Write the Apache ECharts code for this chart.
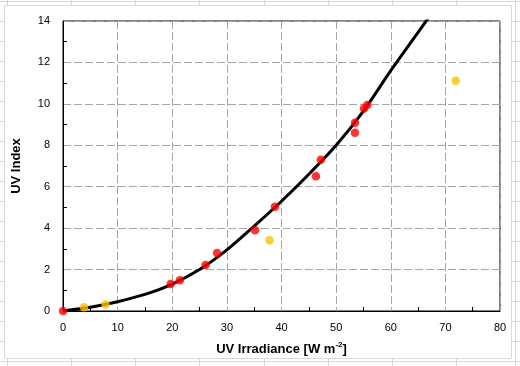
<!DOCTYPE html>
<html>
<head>
<meta charset="utf-8">
<script src="https://cdn.jsdelivr.net/npm/echarts@6/dist/echarts.min.js"></script>
<style>
html,body{margin:0;padding:0;background:#fff;}
#c{width:520px;height:366px;}
</style>
</head>
<body>
<div id="c"></div>
<script>
// Model curve (UV Index vs UV irradiance)
const curveX = [0, 5, 10, 15, 20, 25, 30, 35, 40, 45, 50, 55, 60, 65, 70];
const curveY = [0, 0.18, 0.45, 0.8, 1.3, 2.0, 2.95, 4.1, 5.3, 6.6, 8.0, 9.65, 11.6, 13.45, 15.3];

// Measured points (red)
const redX = [0, 19.7, 21.4, 26.1, 28.2, 35.15, 38.8, 46.3, 47.2, 53.45, 53.45, 55.1, 55.7];
const redY = [0, 1.30, 1.48, 2.22, 2.80, 3.90, 5.03, 6.51, 7.30, 8.60, 9.09, 9.78, 9.94];

// Other points (orange)
const orangeX = [3.84, 7.8, 37.8, 71.9];
const orangeY = [0.18, 0.31, 3.42, 11.12];

// Axis ranges / tick spacing
const xMin = 0, xMax = 80, xStep = 10;
const yMin = 0, yMax = 14, yStep = 2;

const zip = (a, b) => a.map((v, i) => [v, b[i]]);

// Decorative spreadsheet background lines
const sheetCols = [7, 71, 135, 199, 264, 328, 392, 456];
const sheetRows = [];
for (let k = 0; k <= 18; k++) sheetRows.push(1.5 + 20 * k);

const graphics = [];
sheetCols.forEach(x => graphics.push({
  type: 'line', z: -20, silent: true,
  shape: {x1: x + 0.5, y1: 0, x2: x + 0.5, y2: 366},
  style: {stroke: '#d6d6d6', lineWidth: 1}
}));
sheetRows.forEach(y => graphics.push({
  type: 'line', z: -20, silent: true,
  shape: {x1: 0, y1: y, x2: 520, y2: y},
  style: {stroke: '#d6d6d6', lineWidth: 1}
}));
graphics.push({
  type: 'line', z: -19, silent: true,
  shape: {x1: 515.5, y1: 0, x2: 515.5, y2: 366},
  style: {stroke: '#d6d6d6', lineWidth: 1}
});
graphics.push({
  type: 'rect', z: -10, silent: true,
  shape: {x: 4.5, y: 5.5, width: 507, height: 353},
  style: {fill: '#ffffff', stroke: '#d9d9d9', lineWidth: 1}
});

const font = 'Liberation Sans, Arial, sans-serif';
const gridLine = {show: true, lineStyle: {color: '#a6a6a6', width: 1, type: [8, 3]}};

const chart = echarts.init(document.getElementById('c'), null, {renderer: 'canvas'});
chart.setOption({
  animation: false,
  backgroundColor: '#ffffff',
  graphic: graphics,
  grid: {left: 63, right: 20, top: 21, bottom: 55, show: true, borderColor: '#000', borderWidth: 1, backgroundColor: 'transparent'},
  xAxis: {
    type: 'value', min: xMin, max: xMax, interval: xStep,
    axisLine: {show: true, lineStyle: {color: '#000', width: 1}},
    axisTick: {show: false, inside: true},
    minorTick: {show: true, splitNumber: 2, length: 4, lineStyle: {color: '#000', width: 1}},
    splitLine: gridLine,
    axisLabel: {color: '#000', fontSize: 11, fontFamily: font, margin: 11},
    name: '{a|UV Irradiance [W m}{s|-2}{a|]}',
    nameLocation: 'middle', nameGap: 30,
    nameTextStyle: {
      rich: {
        a: {fontSize: 13, fontWeight: 'bold', fontFamily: font, color: '#000', lineHeight: 16},
        s: {fontSize: 8, fontWeight: 'bold', fontFamily: font, color: '#000', verticalAlign: 'top'}
      }
    }
  },
  yAxis: {
    type: 'value', min: yMin, max: yMax, interval: yStep,
    axisLine: {show: true, lineStyle: {color: '#000', width: 1}},
    axisTick: {show: false, inside: true},
    minorTick: {show: true, splitNumber: 2, length: 4, lineStyle: {color: '#000', width: 1}},
    splitLine: gridLine,
    axisLabel: {color: '#000', fontSize: 11, fontFamily: font, margin: 13},
    name: 'UV Index',
    nameLocation: 'middle', nameGap: 40,
    nameTextStyle: {fontSize: 13, fontWeight: 'bold', fontFamily: font, color: '#000'}
  },
  series: [
    {
      type: 'line', data: zip(curveX, curveY), showSymbol: false, symbol: 'none',
      smooth: 0.3, clip: true,
      lineStyle: {color: '#000', width: 3}, z: 3
    },
    {
      type: 'scatter', data: zip(redX, redY), symbol: 'circle', symbolSize: 8.5, clip: false,
      itemStyle: {color: '#ff0000'}, z: 4
    },
    {
      type: 'scatter', data: zip(orangeX, orangeY), symbol: 'circle', symbolSize: 8.5, clip: false,
      itemStyle: {color: '#ffc000'}, z: 4
    }
  ]
});
</script>
</body>
</html>
